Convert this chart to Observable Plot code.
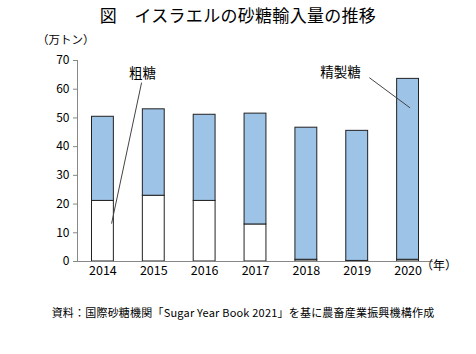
<!DOCTYPE html>
<html><head><meta charset="utf-8">
<script src="https://cdn.jsdelivr.net/npm/d3@7"></script>
<script src="https://cdn.jsdelivr.net/npm/@observablehq/plot@0.6"></script>
<style>
body{margin:0;background:#fff;font-family:"Noto Sans CJK JP",sans-serif;}
#wrap{position:relative;width:476px;height:354px;overflow:hidden;}
.t{position:absolute;white-space:nowrap;color:#000;}
</style></head>
<body><div id="wrap">
<div class="t" id="title" style="left:0;width:476px;text-align:center;top:2px;font-size:17px;letter-spacing:0.3px;">図　イスラエルの砂糖輸入量の推移</div>
<div class="t" id="unit" style="left:37px;top:31px;font-size:11.5px;">（万トン）</div>
<div class="t" id="nen" style="left:421px;top:256px;font-size:12px;">（年）</div>
<div class="t" id="cap" style="left:0;width:486px;text-align:center;top:304px;font-size:11px;letter-spacing:0.2px;">資料：国際砂糖機関「Sugar Year Book 2021」を基に農畜産業振興機構作成</div>
</div>
<script>
const years = [2014, 2015, 2016, 2017, 2018, 2019, 2020];
const raw = [21.1, 22.9, 21.1, 12.9, 0.6, 0.2, 0.6];
const total = [50.4, 53.0, 51.1, 51.5, 46.6, 45.5, 63.6];
const yTicks = [0, 10, 20, 30, 40, 50, 60, 70];
const labels = [
  {text: "粗糖", x: 2014.78, y: 65.5, x1: 2014.76, y1: 62.3, x2: 2014.17, y2: 13.2},
  {text: "精製糖", x: 2018.67, y: 65.6, x1: 2019.24, y1: 64.0, x2: 2020.04, y2: 53.5}
];
const half = 0.215;
const data = years.map((yr, i) => ({year: yr, raw: raw[i], total: total[i]}));

const chart = Plot.plot({
  width: 476, height: 354,
  marginLeft: 77, marginRight: 43, marginTop: 60, marginBottom: 93,
  style: {fontFamily: "Noto Sans CJK JP, sans-serif", fontSize: "12px", color: "#000", background: "transparent"},
  x: {type: "linear", domain: [2013.5, 2020.5], axis: null},
  y: {type: "linear", domain: [0, 70], axis: null},
  marks: [
    Plot.rectY(data, {x1: d => d.year - half, x2: d => d.year + half, y1: 0, y2: "raw", fill: "white", stroke: "#222", strokeWidth: 1}),
    Plot.rectY(data, {x1: d => d.year - half, x2: d => d.year + half, y1: "raw", y2: "total", fill: "#9dc3e6", stroke: "#222", strokeWidth: 1}),
    Plot.ruleY([0], {stroke: "#888", strokeWidth: 1}),
    Plot.ruleX([2013.5], {y1: 0, y2: 70, stroke: "#888", strokeWidth: 1}),
    Plot.axisY(yTicks, {tickSize: 4, tickPadding: 4, label: null, stroke: "#888", fontSize: 12}),
    Plot.axisX(years, {tickSize: 0, tickPadding: 5, label: null, tickFormat: d => String(d), fontSize: 12.5}),
    Plot.link(labels, {x1: "x1", y1: "y1", x2: "x2", y2: "y2", stroke: "#444", strokeWidth: 1}),
    Plot.text(labels, {x: "x", y: "y", text: "text", fontSize: 13.5})
  ]
});
chart.style.position = "absolute";
chart.style.left = "0";
chart.style.top = "0";
document.getElementById("wrap").prepend(chart);
</script>
</body></html>
